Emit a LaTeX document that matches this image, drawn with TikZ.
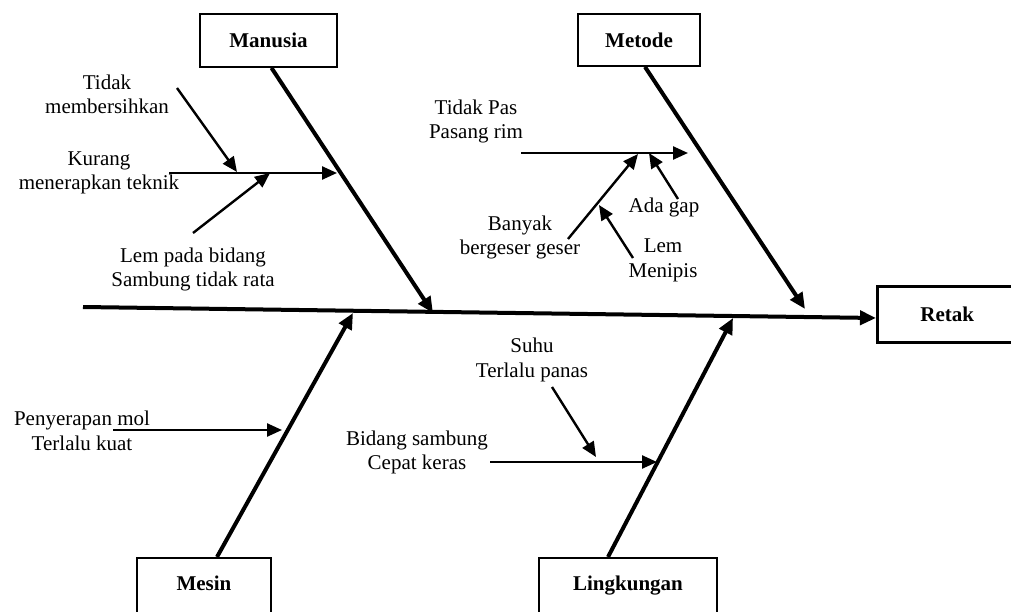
\documentclass[tikz,border=0pt]{standalone}
\usepackage{fontspec}
\setmainfont{Liberation Serif}
\usepackage{tikz}
\usetikzlibrary{arrows.meta}
\usetikzlibrary{positioning}
\tikzset{edge/.style = {-{Triangle[length=15pt,width=13pt]}, line width=2.4pt}}
\tikzset{bone/.style = {-{Triangle[length=16pt,width=14pt]}, line width=4pt}}
\tikzset{box/.style = {draw, line width=1.8pt, font=\fontsize{21}{24.5}\selectfont\bfseries}}
\tikzset{lowbox/.style = {box, anchor=north, inner ysep=0pt, text height=33pt, text depth=30pt}}
\tikzset{cause/.style = {align=center}}

\begin{document}
\begin{tikzpicture}[x=1pt, y=-1pt, font=\fontsize{21}{24.5}\selectfont]
		\clip (0,0) rectangle (1011,612);

		%draw the category boxes
		\node[box, minimum width=137pt, minimum height=53pt](A) at (268.5,40.5){Manusia};
		\node[box, minimum width=122pt, minimum height=52pt](B) at (639,40){Metode};
		\node[box, line width=2.6pt, anchor=north west, minimum width=140pt, minimum height=56pt](R) at (876,285){Retak};
		\node[lowbox, minimum width=134pt](C) at (204,557){Mesin};
		\node[lowbox, minimum width=178pt](D) at (628,557){Lingkungan};

		%draw the spine and the bones
		\coordinate (S) at (83,307);
		\draw[bone] (S) -- (R.west |- 0,318);
		\coordinate (a) at (433,313);
		\coordinate (b) at (805,309);
		\coordinate (c) at (353,313);
		\coordinate (d) at (733,318);
		\draw[bone] ([xshift=3pt]A.south) -- (a);
		\draw[bone] ([xshift=6pt]B.south) -- (b);
		\draw[bone] ([xshift=13pt]C.north) -- (c);
		\draw[bone] ([xshift=-20pt]D.north) -- (d);

		%causes for manusia
		\node[cause](A1) at (107,94.5){Tidak\\membersihkan};
		\node[cause](A2) at (99,173){Kurang\\menerapkan teknik};
		\node[cause](A3) at (193,269.5){Lem pada bidang\\Sambung tidak rata};
		\coordinate (a1) at (177,88);
		\coordinate (a2) at (169,173);
		\coordinate (a3) at (193,233);
		\coordinate (a4) at (237,172);
		\coordinate (a5) at (270,173);
		\coordinate (a6) at (337,173);
		\draw[edge] (a1) -- (a4);
		\draw[edge] (a2) -- (a6);
		\draw[edge] (a3) -- (a5);

		%causes for metode
		\node[cause](B1) at (476,121.5){Tidak Pas\\Pasang rim};
		\node[cause](B2) at (664,207){Ada gap};
		\node[cause](B3) at (520,237.5){Banyak\\bergeser geser};
		\node[cause](B4) at (663,260.5){Lem\\Menipis};
		\coordinate (b1) at (521,153);
		\coordinate (b2) at (688,153);
		\coordinate (b3) at (678,199);
		\coordinate (b4) at (649,153);
		\coordinate (b5) at (568,239);
		\coordinate (b6) at (638,154);
		\coordinate (b7) at (633,258);
		\coordinate (b8) at (599,205);
		\draw[edge] (b1) -- (b2);
		\draw[edge] (b3) -- (b4);
		\draw[edge] (b5) -- (b6);
		\draw[edge] (b7) -- (b8);

		%causes for mesin
		\node[cause](C1) at (82,431){Penyerapan mol\\Terlalu kuat};
		\coordinate (c1) at (113,430);
		\coordinate (c2) at (282,430);
		\draw[edge] (c1) -- (c2);

		%causes for lingkungan
		\node[cause](D1) at (532,360){Suhu\\Terlalu panas};
		\node[cause](D2) at (417,452.5){Bidang sambung\\Cepat keras};
		\coordinate (d1) at (552,387);
		\coordinate (d2) at (596,457);
		\coordinate (d3) at (490,462);
		\coordinate (d4) at (657,462);
		\draw[edge] (d1) -- (d2);
		\draw[edge] (d3) -- (d4);
		\end{tikzpicture}
\end{document}
